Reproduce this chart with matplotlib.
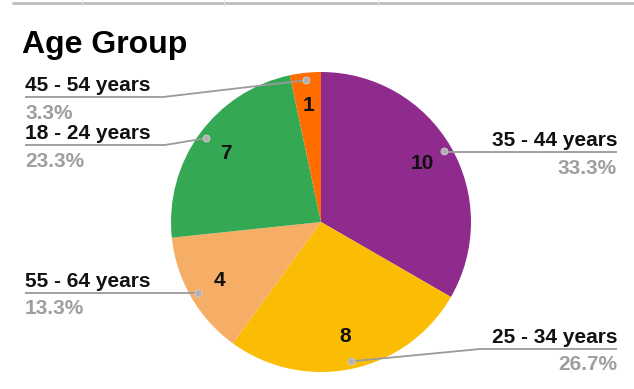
import numpy as np
import matplotlib
matplotlib.use("Agg")  # headless
import matplotlib.pyplot as plt

W, H = 634, 389

# ---------------------------------------------------------------------------
# Data
# ---------------------------------------------------------------------------

age_groups = ["35 - 44 years", "25 - 34 years", "55 - 64 years",
              "18 - 24 years", "45 - 54 years"]
counts = [10, 8, 4, 7, 1]
slice_colors = ["#8e2b8c", "#fbbc04", "#f6ae66", "#34a853", "#ff6d01"]

# Label placement per slice: side, elbow x (None = straight line), line y
# (pixel coords measured from the top-left corner).
label_side = ["right", "right", "left", "left", "left"]
label_elbow_x = [None, 480, None, 165, 163]
label_line_y = [152, 349, 293, 145, 97]

_NAME_COLOR = "#111111"
_PCT_COLOR = "#9e9e9e"
_LEADER = "#9a9a9a"
_FONT = ["Liberation Sans", "DejaVu Sans"]


def py(y_px):
    """Convert a top-down pixel row to the axes' bottom-up y."""
    return H - y_px


fig = plt.figure(figsize=(W / 100, H / 100), dpi=100)
ax = fig.add_axes([0, 0, 1, 1])

cx, cy, R = 321, py(222), 150
wedges, _ = ax.pie(
    counts,
    colors=slice_colors,
    startangle=90,
    counterclock=False,
    center=(cx, cy),
    radius=R,
    wedgeprops=dict(linewidth=0),
)
ax.set_xlim(0, W)
ax.set_ylim(0, H)
ax.set_aspect("equal")
ax.axis("off")

total = sum(counts)
for w, name, n, side, ex, ly in zip(wedges, age_groups, counts,
                                    label_side, label_elbow_x, label_line_y):
    mid = np.deg2rad((w.theta1 + w.theta2) / 2.0)

    # count inside the slice
    ax.text(cx + 0.78 * R * np.cos(mid), cy + 0.78 * R * np.sin(mid), str(n),
            ha="center", va="center", fontsize=15, fontweight="bold",
            color=_NAME_COLOR, family=_FONT)

    # leader: dot on slice -> elbow -> horizontal underline
    dx, dy = cx + 0.95 * R * np.cos(mid), cy + 0.95 * R * np.sin(mid)
    elbow_x = dx if ex is None else ex
    line_y = py(ly)
    end_x = 617 if side == "right" else 25
    ax.plot([dx, elbow_x, end_x], [dy, line_y, line_y],
            color=_LEADER, linewidth=1.3, solid_capstyle="butt", zorder=3)
    ax.plot(dx, dy, "o", color="#b0b0b0", markersize=5,
            markeredgecolor="#d0d0d0", markeredgewidth=0.6, zorder=4)

    ha = "right" if side == "right" else "left"
    ax.text(end_x, line_y + 6, name, ha=ha, va="baseline", fontsize=15,
            fontweight="bold", color=_NAME_COLOR, family=_FONT)
    ax.text(end_x, line_y - 21.5, f"{100 * n / total:.1f}%", ha=ha,
            va="baseline", fontsize=15, fontweight="bold", color=_PCT_COLOR,
            family=_FONT)

# Title
ax.text(22, py(53), "Age Group", ha="left", va="baseline", fontsize=23,
        fontweight="bold", color="#000000", family=_FONT)

# Grey sheet border along the top with faint column ticks
ax.plot([12, W], [py(3), py(3)], color="#bdbdbd", linewidth=2.0,
        solid_capstyle="butt")
for tx in (82, 224, 378):
    ax.plot([tx, tx], [py(0), py(5)], color="#e2e2e2", linewidth=0.8)

fig.savefig("out.png", dpi=100)
plt.close(fig)
